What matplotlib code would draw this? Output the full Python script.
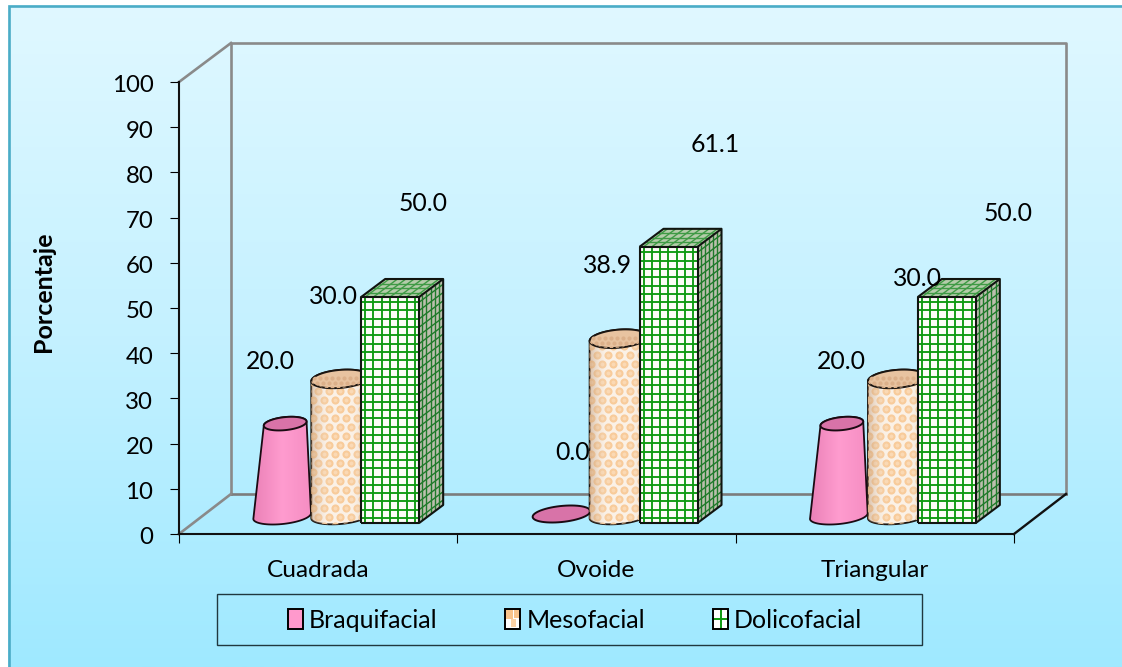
import matplotlib
matplotlib.use("Agg")
import matplotlib.pyplot as plt
import numpy as np
from matplotlib.collections import LineCollection
from matplotlib.colors import LinearSegmentedColormap
from matplotlib.legend_handler import HandlerBase
from matplotlib.lines import Line2D
from matplotlib.patches import Patch, Polygon, Rectangle
from matplotlib.transforms import ScaledTranslation

plt.rcParams["font.family"] = ["Lato", "DejaVu Sans"]

categories = ["Cuadrada", "Ovoide", "Triangular"]
series_names = ["Braquifacial", "Mesofacial", "Dolicofacial"]
braquifacial = [20.0, 0.0, 20.0]
mesofacial = [30.0, 38.9, 30.0]
dolicofacial = [50.0, 61.1, 50.0]
y_ticks = list(range(0, 101, 10))

# label offsets in pixels from the top of each bar, moved by hand to avoid overlaps
braq_offsets = [(-13, 71), (11, 71), (2, 71)]
meso_offsets = [(-7, 91), (-11, 82), (21, 109)]
doli_offsets = [(33, 93), (47, 102), (61, 83)]

W, H = 1122, 667
AX_L, AX_R, AX_TOP, AX_BOT = 179, 1014, 82, 534
PX = (AX_R - AX_L) / 3
PY = (AX_BOT - AX_TOP) / 100
BASE = 11  # bars stand this far above the front edge of the floor
DEPTH_X, DEPTH_Y = 24, 18
WALL_X, WALL_Y = 52, 40

GREEN = "#0f9a12"


def pos(cat, val, dx=0.0, dy=0.0):
    # category index + value + pixel offset -> data coords
    return cat + 0.5 + dx / PX, val + (BASE + dy) / PY


def ellipse_pts(cat, val, cx, cy, a, b, tilt, t):
    c, s = np.cos(tilt), np.sin(tilt)
    ex = a * np.cos(t)
    ey = b * np.sin(t)
    return np.column_stack(pos(cat, val, cx + ex * c - ey * s, cy + ex * s + ey * c))


def grad_fill(ax, patch, colors, extent, zorder):
    cmap = LinearSegmentedColormap.from_list("g", colors)
    im = ax.imshow(np.linspace(0, 1, 64)[None, :], cmap=cmap, extent=extent,
                   aspect="auto", zorder=zorder, interpolation="bilinear")
    im.set_clip_path(patch)


def dots(ax, patch, cat, val_top, x0, x1, color, size, zorder, y0=-12, sx=11.0, sy=9.0):
    px, py = [], []
    top = val_top * PY + 14
    for r, yy in enumerate(np.arange(y0, top, sy)):
        shift = sx / 2 if r % 2 else 0
        for xx in np.arange(x0 + shift, x1, sx):
            px.append(xx)
            py.append(yy)
    x, y = pos(cat, 0, np.array(px), np.array(py))
    sc = ax.scatter(x, y, s=size, color=color, linewidths=0, zorder=zorder)
    sc.set_clip_path(patch)


def draw_cone(ax, cat, val, z):
    # pink truncated cone, collapses to a disc at zero
    top_dx, a_top = (-33, 21.5) if val > 0 else (-35, 29)
    tilt = np.radians(6)
    if val > 0:
        lower = ellipse_pts(cat, 0, -36, 7, 29, 8, tilt, np.linspace(np.pi, 2 * np.pi, 40))
        upper = ellipse_pts(cat, val, top_dx, 9, a_top, 6.5, tilt, np.linspace(0, np.pi, 40))
        body = Polygon(np.vstack([lower, upper]), closed=True, facecolor="none",
                       edgecolor="#1a0a12", lw=1.3, zorder=z + 1, clip_on=False)
        ax.add_patch(body)
        x0, _ = pos(cat, 0, -66)
        x1, _ = pos(cat, 0, -6)
        _, y0 = pos(cat, 0, 0, -2)
        _, y1 = pos(cat, val, 0, 20)
        grad_fill(ax, body, ["#ea80b6", "#ff9ccf", "#f58dc2"], (x0, x1, y0, y1), z)
    disc = Polygon(ellipse_pts(cat, val, top_dx, 9, a_top,
                               6.5 if val > 0 else 8, tilt, np.linspace(0, 2 * np.pi, 60)),
                   closed=True, facecolor="#d873a8", edgecolor="#1a0a12", lw=1.4,
                   zorder=z + 2, clip_on=False)
    ax.add_patch(disc)


def draw_cylinder(ax, cat, val, z):
    cx, a, b = 22, 29, 9
    tilt = np.radians(5)
    lower = ellipse_pts(cat, 0, cx, 7, a, 8, tilt, np.linspace(np.pi, 2 * np.pi, 40))
    upper = ellipse_pts(cat, val, cx, 8.5, a, b, tilt, np.linspace(0, np.pi, 40))
    body = Polygon(np.vstack([lower, upper]), closed=True, facecolor="#fbf1e6",
                   edgecolor="#1a1410", lw=1.3, zorder=z, clip_on=False)
    ax.add_patch(body)
    dots(ax, body, cat, val, cx - a - 4, cx + a + 6, "#f8cb9a", 34, z + 0.1)
    dots(ax, body, cat, val, cx - a - 4, cx + a + 6, "#fbd9b4", 8, z + 0.2)
    x0, _ = pos(cat, 0, cx - a)
    x1, _ = pos(cat, 0, cx + a)
    _, y0 = pos(cat, 0, 0, -4)
    _, y1 = pos(cat, val, 0, 20)
    shade = LinearSegmentedColormap.from_list(
        "s", [(0.72, 0.55, 0.40, 0.45), (1, 1, 1, 0.0), (1, 1, 1, 0.0), (0.72, 0.55, 0.40, 0.35)])
    im = ax.imshow(np.linspace(0, 1, 64)[None, :], cmap=shade, extent=(x0, x1, y0, y1),
                   aspect="auto", zorder=z + 0.3)
    im.set_clip_path(body)
    cap = Polygon(ellipse_pts(cat, val, cx, 8.5, a, b, tilt, np.linspace(0, 2 * np.pi, 60)),
                  closed=True, facecolor="#e8c3a0", edgecolor="#1a1410", lw=1.4,
                  zorder=z + 0.5, clip_on=False)
    ax.add_patch(cap)
    dots(ax, cap, cat, val, cx - a, cx + a, "#dcb08a", 9, z + 0.6,
         y0=val * PY - 6, sx=6, sy=5)


def grid_lines(ax, patch, segs, color, lw, z):
    lc = LineCollection(segs, colors=color, linewidths=lw, zorder=z)
    ax.add_collection(lc, autolim=False)
    lc.set_clip_path(patch)


def draw_box(ax, cat, val, z):
    x0, x1 = 43, 101
    h = val * PY
    step = 8.3

    def xy(dx, dy):
        return pos(cat, 0, dx, dy)

    front = Polygon([xy(x0, 0), xy(x1, 0), xy(x1, h), xy(x0, h)], closed=True,
                    facecolor="#fdfdf8", edgecolor="none", zorder=z, clip_on=False)
    side = Polygon([xy(x1, 0), xy(x1 + DEPTH_X, DEPTH_Y), xy(x1 + DEPTH_X, h + DEPTH_Y), xy(x1, h)],
                   closed=True, facecolor="#bcbfae", edgecolor="none", zorder=z, clip_on=False)
    top = Polygon([xy(x0, h), xy(x1, h), xy(x1 + DEPTH_X, h + DEPTH_Y), xy(x0 + DEPTH_X, h + DEPTH_Y)],
                  closed=True, facecolor="#b4ccaa", edgecolor="none", zorder=z, clip_on=False)
    for p in (front, side, top):
        ax.add_patch(p)

    segs = [[xy(v, 0), xy(v, h)] for v in np.arange(x0 + 4, x1, step)]
    segs += [[xy(x0, v), xy(x1, v)] for v in np.arange(5, h, step)]
    grid_lines(ax, front, segs, GREEN, 1.35, z + 0.1)

    segs = [[xy(x1 + f, f * DEPTH_Y / DEPTH_X), xy(x1 + f, h + f * DEPTH_Y / DEPTH_X)]
            for f in np.arange(3, DEPTH_X, 4.2)]
    segs += [[xy(x1, v), xy(x1 + DEPTH_X, v + DEPTH_Y)] for v in np.arange(5, h, step)]
    grid_lines(ax, side, segs, "#1f7a2a", 1.0, z + 0.1)

    segs = [[xy(v, h), xy(v + DEPTH_X, h + DEPTH_Y)] for v in np.arange(x0 + 4, x1, step)]
    segs += [[xy(x0 + f * DEPTH_X, h + f * DEPTH_Y), xy(x1 + f * DEPTH_X, h + f * DEPTH_Y)]
             for f in (0.25, 0.5, 0.75)]
    grid_lines(ax, top, segs, "#3f9a45", 1.0, z + 0.1)

    outline = [[xy(x0, 0), xy(x1, 0), xy(x1, h), xy(x0, h), xy(x0, 0)],
               [xy(x1, 0), xy(x1 + DEPTH_X, DEPTH_Y), xy(x1 + DEPTH_X, h + DEPTH_Y), xy(x1, h)],
               [xy(x0, h), xy(x0 + DEPTH_X, h + DEPTH_Y), xy(x1 + DEPTH_X, h + DEPTH_Y)]]
    lc = LineCollection(outline, colors="#101410", linewidths=1.5, zorder=z + 0.3, clip_on=False)
    ax.add_collection(lc, autolim=False)


class SwatchHandler(HandlerBase):
    # small patterned legend keys
    def __init__(self, kind):
        super().__init__()
        self.kind = kind

    def create_artists(self, legend, orig_handle, xdescent, ydescent, width, height, fontsize, trans):
        x, y = -xdescent, -ydescent
        base = {"pink": "#ff99cc", "orange": "#ffffff", "green": "#ffffff"}[self.kind]
        art = [Rectangle((x, y), width, height, facecolor=base, edgecolor="none", transform=trans)]
        if self.kind == "orange":
            art.append(Rectangle((x, y + height * 0.5), width * 0.5, height * 0.5,
                                 facecolor="#f9c48c", edgecolor="none", transform=trans))
            art.append(Rectangle((x + width * 0.35, y + height * 0.1), width * 0.35, height * 0.4,
                                 facecolor="#fbd2a6", edgecolor="none", transform=trans))
            art.append(Rectangle((x + width * 0.6, y + height * 0.55), width * 0.4, height * 0.4,
                                 facecolor="#f9c48c", edgecolor="none", transform=trans))
        if self.kind == "green":
            art.append(Line2D([x + width / 2] * 2, [y, y + height], color=GREEN, lw=1.4, transform=trans))
            art.append(Line2D([x, x + width], [y + height / 2] * 2, color=GREEN, lw=1.4, transform=trans))
        art.append(Rectangle((x, y), width, height, facecolor="none", edgecolor="black",
                             lw=1.4, transform=trans))
        return art


def main():
    fig = plt.figure(figsize=(W / 100, H / 100), dpi=100)

    # page background with the vertical gradient and frame
    bg = fig.add_axes([0, 0, 1, 1], zorder=-1)
    bg.axis("off")
    sky = LinearSegmentedColormap.from_list("sky", ["#e0f8ff", "#c4f1ff", "#9fe9ff"])
    bg.imshow(np.linspace(0, 1, 256)[:, None], cmap=sky, extent=(8, W, H, 5), aspect="auto")
    bg.set_xlim(0, W)
    bg.set_ylim(H, 0)
    bg.plot([9, 9, W], [H, 6, 6], color="#4bacc6", lw=1.9, solid_joinstyle="miter")
    bg.add_patch(Rectangle((217, 594), 705, 51, facecolor="none", edgecolor="#20383f", lw=1.0))

    ax = fig.add_axes([AX_L / W, 1 - AX_BOT / H, (AX_R - AX_L) / W, (AX_BOT - AX_TOP) / H])
    ax.patch.set_visible(False)

    # back wall and floor edges
    wall = {"color": "#8a8a8a", "lw": 1.9, "clip_on": False, "zorder": 1}
    wx = 3 + WALL_X / PX
    wy0 = WALL_Y / PY
    wy1 = 100 + 39 / PY
    ax.plot([WALL_X / PX, WALL_X / PX, wx, wx], [wy0, wy1, wy1, wy0], **wall)
    ax.plot([WALL_X / PX, wx], [wy0, wy0], color="#7c7c7c", lw=1.9, clip_on=False, zorder=1)
    ax.plot([0, WALL_X / PX], [100, wy1], **wall)
    ax.plot([0, WALL_X / PX], [0, wy0], **wall)
    ax.plot([3, wx], [0, wy0], color="#111111", lw=1.7, clip_on=False, zorder=1)

    for i in range(len(categories)):
        draw_cone(ax, i, braquifacial[i], 3)
        draw_cylinder(ax, i, mesofacial[i], 6)
        draw_box(ax, i, dolicofacial[i], 8)

        bars = [(-35, braquifacial[i], braq_offsets[i]),
                (22, mesofacial[i], meso_offsets[i]),
                (72, dolicofacial[i], doli_offsets[i])]
        for dx, val, off in bars:
            ax.annotate(f"{val:.1f}", xy=pos(i, val, dx), xytext=off,
                        textcoords="offset pixels", ha="center", va="center",
                        fontsize=17.8, color="black", zorder=20)

    ax.set_xlim(0, 3)
    ax.set_ylim(0, 100)
    for name in ("top", "right"):
        ax.spines[name].set_visible(False)
    for name in ("left", "bottom"):
        ax.spines[name].set_linewidth(1.5)
        ax.spines[name].set_color("#111111")
        ax.spines[name].set_zorder(2)

    ax.set_yticks(y_ticks)
    ax.tick_params(axis="y", length=6.5, width=0.8, labelsize=17.3, pad=12)
    nudge = ScaledTranslation(0, -2 / 100, fig.dpi_scale_trans)
    for lab in ax.get_yticklabels():
        lab.set_transform(lab.get_transform() + nudge)
    ax.set_xticks([0, 1, 2, 3])
    ax.set_xticklabels([])
    ax.tick_params(axis="x", which="major", length=6.5, width=0.8)
    ax.set_xticks([0.5, 1.5, 2.5], categories, minor=True)
    ax.tick_params(axis="x", which="minor", length=0, labelsize=17.6, pad=18.5)

    ax.set_ylabel("Porcentaje", fontsize=18, fontweight="bold")
    ax.yaxis.set_label_coords((55 - AX_L) / (AX_R - AX_L), (AX_BOT - 292) / (AX_BOT - AX_TOP))

    h_pink, h_orange, h_green = Patch(), Patch(), Patch()
    leg = ax.legend([h_pink, h_orange, h_green], series_names,
                    handler_map={h_pink: SwatchHandler("pink"),
                                 h_orange: SwatchHandler("orange"),
                                 h_green: SwatchHandler("green")},
                    ncols=3, loc="center", bbox_to_anchor=(575 / W, 1 - 620 / H),
                    bbox_transform=fig.transFigure, frameon=False, fontsize=18,
                    handlelength=0.6, handleheight=0.9, handletextpad=0.24, columnspacing=2.72)
    leg.set_zorder(30)

    fig.savefig("out.png", dpi=100)


if __name__ == "__main__":
    main()
